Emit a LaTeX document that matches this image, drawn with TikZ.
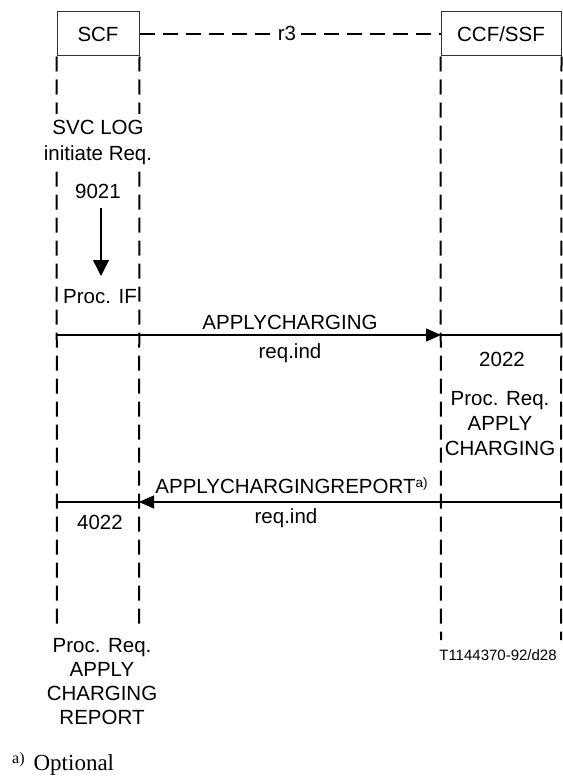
\documentclass[tikz,border=0pt]{standalone}
\usepackage{fontspec}
\setmainfont{Liberation Sans}
\newfontfamily\seriffont{Liberation Serif}
\usetikzlibrary{arrows.meta}
\begin{document}
\begin{tikzpicture}[x=1pt,y=-1pt,
  lbl/.style={font=\fontsize{20.5}{25}\selectfont, inner sep=0pt, anchor=base, align=center},
  cover/.style={lbl, fill=white, inner xsep=2pt, inner ysep=6pt},
  life/.style={line width=2pt, dash pattern=on 15pt off 8pt},
  iface/.style={line width=1.4pt, dash pattern=on 15pt off 8pt},
  msg/.style={line width=1.3pt},
  tip/.style={-{Triangle[length=15pt,width=13pt]}},
  entbox/.style={draw=black!80, line width=1pt, minimum height=44pt, inner sep=0pt, font=\fontsize{20.5}{25}\selectfont}]
\useasboundingbox (0,0) rectangle (562,776);

% entity boxes
\node[entbox, minimum width=82pt] (scf) at (98,34) {SCF};
\node[entbox, minimum width=120pt] (ccf) at (501,34) {CCF/SSF};

% r3 interface
\draw[iface] (scf.east) -- (ccf.west);
\node[lbl, fill=white, inner xsep=0.5pt, inner ysep=1pt] (r3) at (287,41) {r3};

% lifelines
\coordinate (sl1) at (57,625);
\coordinate (sr1) at (139,628);
\coordinate (cl1) at (441,640);
\coordinate (cr1) at (561,640);
\draw[life] (scf.south west) -- (sl1);
\draw[life] (scf.south east) -- (sr1);
\draw[life] (ccf.south west) -- (cl1);
\draw[life] (ccf.south east) -- (cr1);

% SCF column texts
\node[cover] (svc) at (98,134.5) {SVC LOG};
\node[cover] (ini) at (98,160.5) {initiate Req.};
\node[lbl] (n9021) at (98,198) {9021};
\coordinate (va) at (101,208);
\coordinate (vb) at (101,276);
\draw[msg, -{Triangle[length=16pt,width=16pt]}] (va) -- (vb);
\node[lbl] (procif) at (100,303) {Proc. IF};

% message 1
\coordinate (m1a) at (57,335);
\coordinate (m1b) at (441,335);
\coordinate (m1c) at (562,335);
\draw[msg, tip] (m1a) -- (m1b);
\draw[msg] (m1b) -- (m1c);
\node[lbl] (ac) at (290,329) {APPLYCHARGING};
\node[lbl] (ri1) at (290,358) {req.ind};
\node[lbl] (n2022) at (502,366) {2022};
\node[lbl] (pr1) at (500,405) {Proc. Req.};
\node[lbl] (pr2) at (500,430) {APPLY};
\node[lbl] (pr3) at (500,455) {CHARGING};

% message 2
\coordinate (m2a) at (562,502);
\coordinate (m2b) at (139,502);
\coordinate (m2c) at (57,502);
\draw[msg, tip] (m2a) -- (m2b);
\draw[msg] (m2b) -- (m2c);
\node[lbl] (acr) at (291.5,493) {APPLYCHARGINGREPORT\raisebox{6pt}{\fontsize{13.5}{13.5}\selectfont a)}};
\node[lbl] (ri2) at (286,523) {req.ind};
\node[lbl] (n4022) at (100,529) {4022};

% bottom SCF texts
\node[lbl] (b1) at (102,652) {Proc. Req.};
\node[lbl] (b2) at (102,676) {APPLY};
\node[lbl] (b3) at (102,700) {CHARGING};
\node[lbl] (b4) at (102,724) {REPORT};

\node[lbl, font=\fontsize{15}{15}\selectfont] (ref) at (498,660) {T1144370-92/d28};

% footnote
\node[inner sep=0pt, anchor=base west] (fn) at (12,770) {\seriffont\raisebox{7pt}{\fontsize{16}{16}\selectfont a)}\hspace{9pt}\fontsize{23}{23}\selectfont Optional};
\end{tikzpicture}
\end{document}
